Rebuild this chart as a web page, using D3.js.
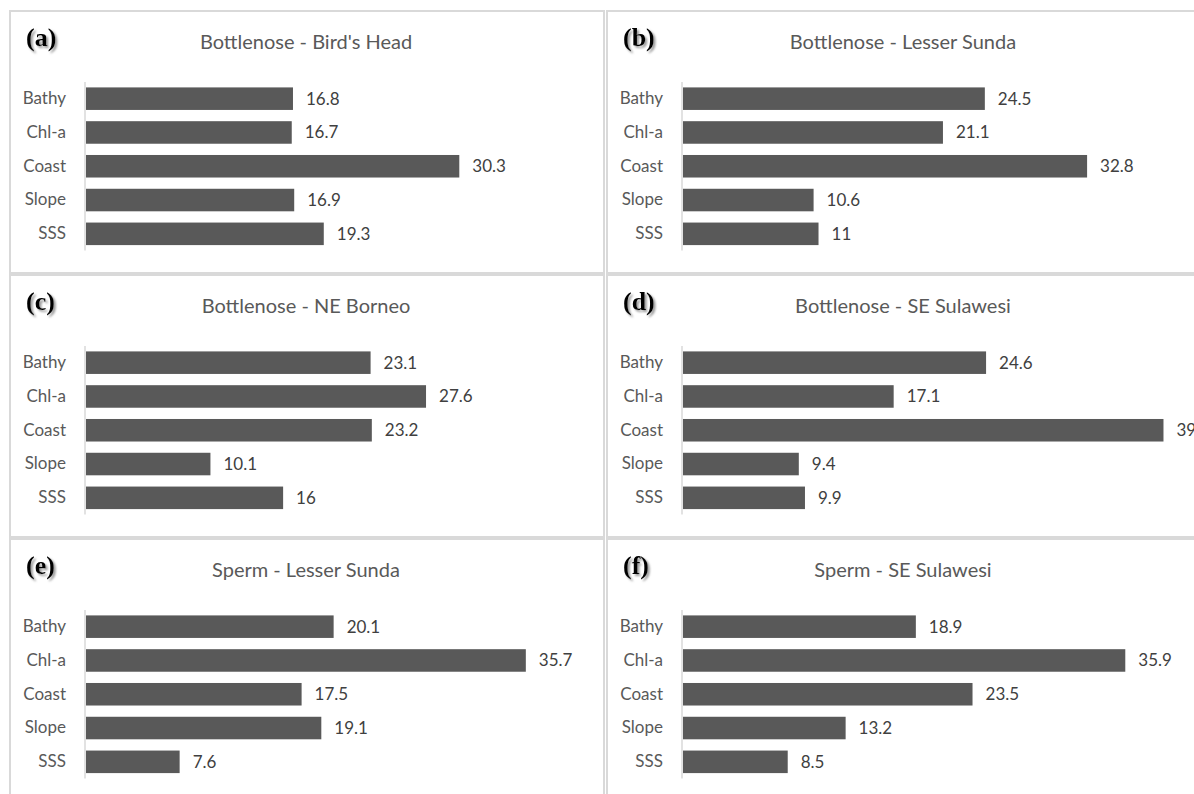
<!DOCTYPE html>
<html>
<head>
<meta charset="utf-8">
<script src="https://cdn.jsdelivr.net/npm/d3@7"></script>
<style>
  html, body { margin: 0; padding: 0; background: #ffffff; }
  svg { display: block; }
</style>
</head>
<body>
<svg id="chart" width="1194" height="794"></svg>
<script>
// Relative importance (%) of each predictor, per species / region model
const predictors = ["Bathy", "Chl-a", "Coast", "Slope", "SSS"];
const panelTags = ["(a)", "(b)", "(c)", "(d)", "(e)", "(f)"];
const panelTitles = [
  "Bottlenose - Bird's Head",
  "Bottlenose - Lesser Sunda",
  "Bottlenose - NE Borneo",
  "Bottlenose - SE Sulawesi",
  "Sperm - Lesser Sunda",
  "Sperm - SE Sulawesi"
];
const birdsHeadBottlenose   = [16.8, 16.7, 30.3, 16.9, 19.3];
const lesserSundaBottlenose = [24.5, 21.1, 32.8, 10.6, 11];
const neBorneoBottlenose    = [23.1, 27.6, 23.2, 10.1, 16];
const seSulawesiBottlenose  = [24.6, 17.1, 39, 9.4, 9.9];
const lesserSundaSperm      = [20.1, 35.7, 17.5, 19.1, 7.6];
const seSulawesiSperm       = [18.9, 35.9, 23.5, 13.2, 8.5];

const panelValues = [
  birdsHeadBottlenose, lesserSundaBottlenose,
  neBorneoBottlenose, seSulawesiBottlenose,
  lesserSundaSperm, seSulawesiSperm
];

// Grid layout: two columns, three rows of framed panels
const colX = [10, 607];
const colW = [594, 600];
const rowY = [11, 275, 539];
const rowH = 262;

const svg = d3.select("#chart");

const defs = svg.append("defs");
const shadow = defs.append("filter").attr("id", "tagShadow")
  .attr("x", "-20%").attr("y", "-20%").attr("width", "150%").attr("height", "150%");
shadow.append("feDropShadow")
  .attr("dx", 2).attr("dy", 2).attr("stdDeviation", 1.2)
  .attr("flood-color", "#7f7f7f").attr("flood-opacity", 0.8);

// Shared horizontal value scale (all panels use the same axis length)
const x = d3.scaleLinear().domain([0, 40]).range([0, 492.8]);
const y = d3.scaleBand().domain(predictors).range([71, 239.5])
  .paddingInner(0.333).paddingOuter(0.16);

panelValues.forEach((vals, i) => {
  const col = i % 2, row = Math.floor(i / 2);
  const x0 = colX[col], y0 = rowY[row];
  const g = svg.append("g").attr("transform", `translate(${x0},${y0})`);

  // frame
  g.append("rect")
    .attr("x", 0).attr("y", 0)
    .attr("width", colW[col]).attr("height", rowH)
    .attr("fill", "none").attr("stroke", "#d9d9d9").attr("stroke-width", 2);

  // panel tag
  g.append("text")
    .attr("x", 16).attr("y", 35)
    .attr("font-family", "'Liberation Serif', 'Times New Roman', serif")
    .attr("font-weight", "bold").attr("font-size", 26)
    .attr("fill", "#000").attr("filter", "url(#tagShadow)")
    .text(panelTags[i]);

  // title
  g.append("text")
    .attr("x", 296).attr("y", 38)
    .attr("text-anchor", "middle")
    .attr("font-family", "Lato, 'Open Sans', sans-serif")
    .attr("font-size", 20).attr("fill", "#595959")
    .text(panelTitles[i]);

  const plot = g.append("g").attr("transform", "translate(75,0)");

  // category axis (line only, no ticks)
  const axis = plot.append("g")
    .call(d3.axisLeft(y).tickSize(0).tickPadding(19));
  axis.select(".domain").attr("stroke", "#d9d9d9").attr("stroke-width", 1.5)
    .attr("d", `M0,${y.range()[0]}V${y.range()[1]}`);
  axis.selectAll(".tick text")
    .attr("font-family", "Lato, 'Open Sans', sans-serif")
    .attr("font-size", 17).attr("fill", "#595959");

  const data = predictors.map((p, k) => ({ p, v: vals[k] }));

  plot.selectAll("rect.bar").data(data).enter().append("rect")
    .attr("class", "bar")
    .attr("x", 1)
    .attr("y", d => y(d.p))
    .attr("width", d => x(d.v))
    .attr("height", y.bandwidth())
    .attr("fill", "#595959");

  plot.selectAll("text.val").data(data).enter().append("text")
    .attr("class", "val")
    .attr("x", d => x(d.v) + 14)
    .attr("y", d => y(d.p) + y.bandwidth() / 2)
    .attr("dy", "0.35em")
    .attr("font-family", "Lato, 'Open Sans', sans-serif")
    .attr("font-size", 17).attr("fill", "#404040")
    .text(d => d.v);
});
</script>
</body>
</html>
